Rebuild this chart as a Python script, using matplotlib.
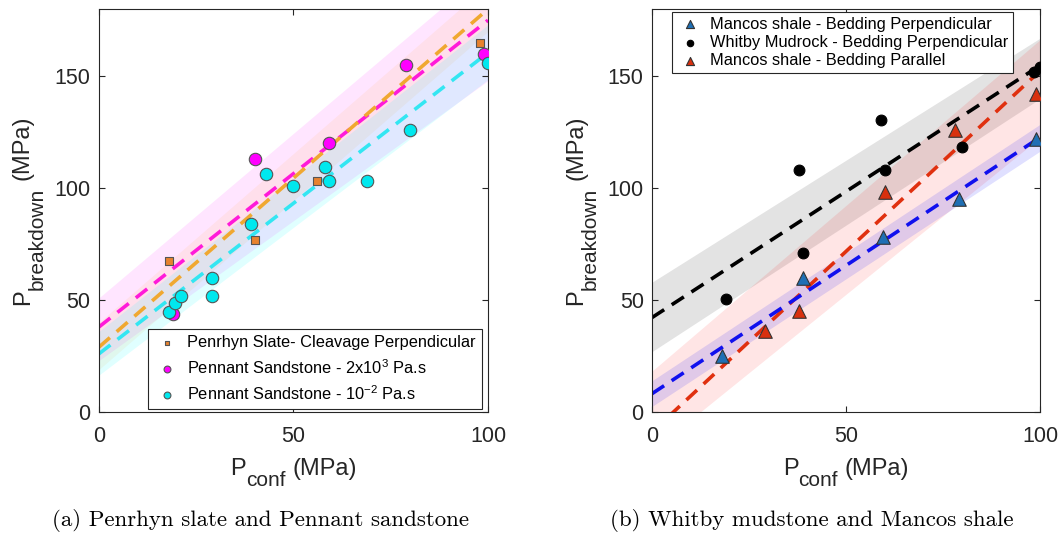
import matplotlib
matplotlib.use('Agg')
import matplotlib.pyplot as plt
from matplotlib.transforms import IdentityTransform
import numpy as np

plt.rcParams['font.family'] = ['Liberation Sans', 'DejaVu Sans']

# ---------------- dados (a) ----------------
x_penrhyn = [18, 40, 56, 98]
y_penrhyn = [67.5, 77, 103, 165]

x_pen_2e3 = [19, 40, 59, 79, 99]
y_pen_2e3 = [44, 113, 120, 155, 160]

x_pen_1e2 = [18, 19.5, 21, 29, 29, 39, 43, 50, 58, 59, 69, 80, 100]
y_pen_1e2 = [44.5, 48.5, 52, 52, 60, 84, 106.5, 101, 109.5, 103, 103, 126, 156]

# retas de ajuste (intercepto, inclinacao) e faixas (inferior, superior)
fit_penrhyn = [29, 1.51]
band_penrhyn = [[19, 1.51], [40, 1.51]]
fit_pen_2e3 = [38, 1.37]
band_pen_2e3 = [[23, 1.25], [51, 1.47]]
fit_pen_1e2 = [26, 1.345]
band_pen_1e2 = [[16.5, 1.32], [36, 1.37]]

# ---------------- dados (b) ----------------
x_mancos_perp = [18, 39, 59.5, 79, 99]
y_mancos_perp = [25, 60, 78, 95, 122]

x_whitby = [19, 38, 39, 59, 60, 80, 98.5, 100]
y_whitby = [50.5, 108, 71, 130.5, 108, 118.5, 152, 154]

x_mancos_par = [29, 38, 60, 78, 99]
y_mancos_par = [36, 45, 98.5, 126, 142]

fit_mancos_perp = [8.2, 1.145]
band_mancos_perp = [[2.5, 1.14], [14, 1.145]]
fit_whitby = [42.2, 1.126]
band_whitby = [[27, 1.13], [58, 1.09]]
fit_mancos_par = [-8.9, 1.613]
band_mancos_par = [[-17.4, 1.40], [18.3, 1.48]]

xx = np.linspace(0, 100, 50)
COR_TXT = '#262626'


def reta(c):
    return c[0] + c[1] * xx


def faixa(ax, band, cor, alpha):
    ax.fill_between(xx, reta(band[0]), reta(band[1]), color=cor, alpha=alpha, lw=0)


def estilo(ax):
    ax.set_xlim(0, 100)
    ax.set_ylim(0, 180)
    ax.set_xticks([0, 50, 100])
    ax.set_yticks([0, 50, 100, 150])
    ax.tick_params(direction='in', top=True, right=True, labelsize=15.5,
                   length=4, color=COR_TXT, labelcolor=COR_TXT)
    ax.tick_params(axis='x', pad=10)
    ax.tick_params(axis='y', pad=6)
    for s in ax.spines.values():
        s.set_color(COR_TXT)
        s.set_linewidth(0.8)


# rotulo estilo MATLAB: subscrito grande e bem rebaixado
def rotulo(fig, ax, principal, sub, resto, vertical, E=17, S=15, desce=14):
    r = fig.canvas.get_renderer()
    tr = IdentityTransform()
    W, H = fig.bbox.width, fig.bbox.height
    p = ax.get_position()
    kw = dict(transform=tr, color=COR_TXT, ha='left', va='baseline')
    if vertical:
        kw.update(rotation=90, rotation_mode='anchor')
    t1 = fig.text(0, 0, principal, fontsize=E, **kw)
    t2 = fig.text(0, 0, sub, fontsize=S, **kw)
    t3 = fig.text(0, 0, resto, fontsize=E, **kw)
    ext = [t.get_window_extent(r) for t in (t1, t2, t3)]
    gap = 0.3 * E * fig.dpi / 72
    if vertical:
        L = [e.height for e in ext]
    else:
        L = [e.width for e in ext]
    total = L[0] + L[1] + gap + L[2]
    if vertical:
        c = (p.y0 + p.y1) / 2 * H
        x0 = p.x0 * W - 70
        y0 = c - total / 2
        t1.set_position((x0, y0))
        t2.set_position((x0 + desce, y0 + L[0]))
        t3.set_position((x0, y0 + L[0] + L[1] + gap))
    else:
        c = (p.x0 + p.x1) / 2 * W
        y0 = p.y0 * H - 63
        x0 = c - total / 2
        t1.set_position((x0, y0))
        t2.set_position((x0 + L[0], y0 - desce))
        t3.set_position((x0 + L[0] + L[1] + gap, y0))


fig = plt.figure(figsize=(10.63, 5.33), dpi=100)
ax1 = fig.add_axes([0.0931, 0.227, 0.366, 0.756])
ax2 = fig.add_axes([0.6134, 0.227, 0.365, 0.756])

# ---- (a) ----
faixa(ax1, band_pen_2e3, '#ff00ff', 0.10)
faixa(ax1, band_penrhyn, '#ff9900', 0.08)
faixa(ax1, band_pen_1e2, '#00ffff', 0.12)
ax1.plot(xx, reta(fit_pen_2e3), '--', color='#ff1ad9', lw=2.6, dashes=(4, 2.5))
ax1.plot(xx, reta(fit_penrhyn), '--', color='#f0a830', lw=2.6, dashes=(4, 2.5))
ax1.plot(xx, reta(fit_pen_1e2), '--', color='#33e6f2', lw=2.6, dashes=(4, 2.5))

ax1.scatter(x_penrhyn, y_penrhyn, s=40, marker='s', c='#e8822e', edgecolors='#555555',
            linewidths=0.8, zorder=3, label='Penrhyn Slate- Cleavage Perpendicular')
ax1.scatter(x_pen_2e3, y_pen_2e3, s=80, marker='o', c='#ff00ff', edgecolors='#555555',
            linewidths=0.8, zorder=3, label=r'Pennant Sandstone - 2x10$^{\mathregular{3}}$ Pa.s')
ax1.scatter(x_pen_1e2, y_pen_1e2, s=80, marker='o', c='#00e8ee', edgecolors='#555555',
            linewidths=0.8, zorder=4, label=r'Pennant Sandstone - 10$^{\mathregular{-2}}$ Pa.s')
estilo(ax1)
leg1 = ax1.legend(loc='lower right', fontsize=11.8, markerscale=0.55, fancybox=False,
                  edgecolor=COR_TXT, framealpha=1, borderpad=0.4, labelspacing=0.45,
                  handlelength=1.6, handletextpad=0.4, borderaxespad=0,
                  bbox_to_anchor=(0.985, 0.007))
leg1.get_frame().set_linewidth(0.8)

# ---- (b) ----
faixa(ax2, band_whitby, '#808080', 0.22)
faixa(ax2, band_mancos_par, '#ff0000', 0.10)
faixa(ax2, band_mancos_perp, '#0000ff', 0.12)
ax2.plot(xx, reta(fit_whitby), '--', color='black', lw=2.6, dashes=(4, 2.5))
ax2.plot(xx, reta(fit_mancos_par), '--', color='#e0300f', lw=2.6, dashes=(4, 2.5))
ax2.plot(xx, reta(fit_mancos_perp), '--', color='#1010ee', lw=2.6, dashes=(4, 2.5))

ax2.scatter(x_mancos_perp, y_mancos_perp, s=95, marker='^', c='#1f6fb4', edgecolors='#333333',
            linewidths=0.8, zorder=3, label='Mancos shale - Bedding Perpendicular')
ax2.scatter(x_whitby, y_whitby, s=60, marker='o', c='black', edgecolors='black',
            linewidths=0.8, zorder=3, label='Whitby Mudrock - Bedding Perpendicular')
ax2.scatter(x_mancos_par, y_mancos_par, s=95, marker='^', c='#d8300e', edgecolors='#333333',
            linewidths=0.8, zorder=3, label='Mancos shale - Bedding Parallel')
estilo(ax2)
leg2 = ax2.legend(loc='upper left', fontsize=11.8, markerscale=0.6, fancybox=False,
                  edgecolor=COR_TXT, framealpha=1, borderpad=0.3, labelspacing=0.2,
                  handlelength=1.6, handletextpad=0.4, borderaxespad=0,
                  bbox_to_anchor=(0.052, 0.993))
leg2.get_frame().set_linewidth(0.8)

for ax in (ax1, ax2):
    rotulo(fig, ax, 'P', 'breakdown', '(MPa)', vertical=True)
    rotulo(fig, ax, 'P', 'conf', '(MPa)', vertical=False, desce=11)

# legendas das figuras
fig.text(0.245, 0.014, '(a) Penrhyn slate and Pennant sandstone', fontsize=16.5,
         family='cmr10', ha='center')
fig.text(0.764, 0.014, '(b) Whitby mudstone and Mancos shale', fontsize=16.5,
         family='cmr10', ha='center')

fig.savefig('out.png', dpi=100)
